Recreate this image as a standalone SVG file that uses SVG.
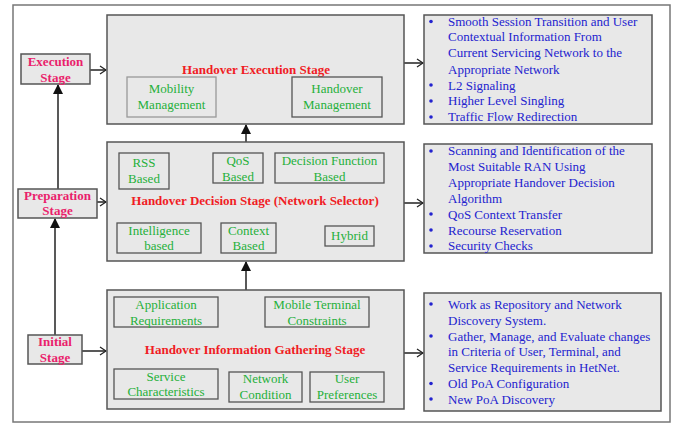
<svg xmlns="http://www.w3.org/2000/svg" width="678" height="424" viewBox="0 0 678 424">
<defs>
<marker id="chev" markerWidth="8" markerHeight="10" refX="7" refY="5" orient="auto" markerUnits="userSpaceOnUse">
<path d="M1,1 L7,5 L1,9" fill="none" stroke="#222" stroke-width="1.3"/>
</marker>
<marker id="tri" markerWidth="10" markerHeight="12" refX="9" refY="5" orient="auto" markerUnits="userSpaceOnUse">
<path d="M0,0 L10,5 L0,10 Z" fill="#111"/>
</marker>
</defs>
<style>
.frame{fill:#fff;stroke:#777;stroke-width:1.5}
.box{fill:#e8e8e8;stroke:#555;stroke-width:1.5}
.sub{fill:#e8e8e8;stroke:#555;stroke-width:1.3}
.subl{fill:#e8e8e8;stroke:#999;stroke-width:1.3}
.g{font-family:"Liberation Serif","Times New Roman",serif;font-size:13px;fill:#25b03a;text-anchor:middle}
.t{font-family:"Liberation Serif","Times New Roman",serif;font-size:13px;font-weight:bold;fill:#f01c24;text-anchor:middle}
.s{font-family:"Liberation Serif","Times New Roman",serif;font-size:13px;font-weight:bold;fill:#ea1f6c;text-anchor:middle}
.b{font-family:"Liberation Serif","Times New Roman",serif;font-size:13px;fill:#2323cf}
.line{stroke:#222;stroke-width:1.5;fill:none}
</style>
<rect class="frame" x="13" y="5" width="657" height="417"/>

<g id="connectors">
<line class="line" x1="90" y1="70" x2="106" y2="70" marker-end="url(#chev)"/>
<line class="line" x1="97" y1="202" x2="106" y2="202" marker-end="url(#chev)"/>
<line class="line" x1="82" y1="351" x2="106" y2="351" marker-end="url(#chev)"/>
<line class="line" x1="404" y1="63" x2="423" y2="63" marker-end="url(#chev)"/>
<line class="line" x1="404" y1="203" x2="423" y2="203" marker-end="url(#chev)"/>
<line class="line" x1="404" y1="353" x2="423" y2="353" marker-end="url(#chev)"/>
<line class="line" x1="58" y1="189" x2="58" y2="85" marker-end="url(#tri)"/>
<line class="line" x1="55" y1="335" x2="55" y2="219" marker-end="url(#tri)"/>
<line class="line" x1="246" y1="142" x2="246" y2="125" marker-end="url(#tri)"/>
<line class="line" x1="246" y1="290" x2="246" y2="262" marker-end="url(#tri)"/>
</g>

<g id="execution-stage">
<rect class="box" x="21" y="54" width="69" height="30"/>
<text class="s" x="55.5" y="66">Execution</text>
<text class="s" x="55.5" y="81.5">Stage</text>
</g>
<g id="preparation-stage">
<rect class="box" x="18" y="189" width="79" height="29"/>
<text class="s" x="57.5" y="199.5">Preparation</text>
<text class="s" x="57.5" y="215">Stage</text>
</g>
<g id="initial-stage">
<rect class="box" x="28" y="335" width="54" height="29"/>
<text class="s" x="55" y="346">Initial</text>
<text class="s" x="55" y="361.5">Stage</text>
</g>

<g id="handover-execution">
<rect class="box" x="107" y="15" width="297" height="109"/>
<text class="t" x="256" y="74">Handover Execution Stage</text>
<g id="mobility-management">
<rect class="subl" x="127" y="77" width="89" height="40"/>
<text class="g" x="171.5" y="92.5">Mobility</text>
<text class="g" x="171.5" y="108.5">Management</text>
</g>
<g id="handover-management">
<rect class="sub" x="292" y="77" width="90" height="40"/>
<text class="g" x="337" y="92.5">Handover</text>
<text class="g" x="337" y="108.5">Management</text>
</g>
</g>

<g id="handover-decision">
<rect class="box" x="107" y="142" width="297" height="119"/>
<text class="t" x="255" y="205">Handover Decision Stage (Network Selector)</text>
<g id="rss-based">
<rect class="sub" x="119" y="153" width="50" height="36"/>
<text class="g" x="144" y="167">RSS</text>
<text class="g" x="144" y="183">Based</text>
</g>
<g id="qos-based">
<rect class="sub" x="213" y="153" width="50" height="30"/>
<text class="g" x="238" y="165">QoS</text>
<text class="g" x="238" y="180.5">Based</text>
</g>
<g id="decision-function-based">
<rect class="sub" x="275" y="153" width="109" height="30"/>
<text class="g" x="329.5" y="165">Decision Function</text>
<text class="g" x="329.5" y="180.5">Based</text>
</g>
<g id="intelligence-based">
<rect class="sub" x="117" y="223" width="84" height="30"/>
<text class="g" x="159" y="234.5">Intelligence</text>
<text class="g" x="159" y="250">based</text>
</g>
<g id="context-based">
<rect class="sub" x="221" y="223" width="55" height="30"/>
<text class="g" x="248.5" y="234.5">Context</text>
<text class="g" x="248.5" y="250">Based</text>
</g>
<g id="hybrid">
<rect class="sub" x="325" y="226" width="49" height="20"/>
<text class="g" x="349.5" y="240">Hybrid</text>
</g>
</g>

<g id="handover-information">
<rect class="box" x="107" y="290" width="297" height="119"/>
<text class="t" x="255" y="354">Handover Information Gathering Stage</text>
<g id="application-requirements">
<rect class="sub" x="114" y="297" width="104" height="30"/>
<text class="g" x="166" y="308.5">Application</text>
<text class="g" x="166" y="324.5">Requirements</text>
</g>
<g id="mobile-terminal-constraints">
<rect class="sub" x="265" y="297" width="104" height="30"/>
<text class="g" x="317" y="308.5">Mobile Terminal</text>
<text class="g" x="317" y="324.5">Constraints</text>
</g>
<g id="service-characteristics">
<rect class="sub" x="114" y="369" width="104" height="30"/>
<text class="g" x="166" y="380.5">Service</text>
<text class="g" x="166" y="396">Characteristics</text>
</g>
<g id="network-condition">
<rect class="sub" x="229" y="372" width="73" height="30"/>
<text class="g" x="265.5" y="383">Network</text>
<text class="g" x="265.5" y="398.5">Condition</text>
</g>
<g id="user-preferences">
<rect class="sub" x="310" y="372" width="74" height="30"/>
<text class="g" x="347" y="383">User</text>
<text class="g" x="347" y="398.5">Preferences</text>
</g>
</g>

<g id="execution-details">
<rect class="box" x="424" y="15" width="228" height="109"/>
<g fill="#2323cf">
<circle cx="431" cy="21.5" r="1.8"/><circle cx="431" cy="85" r="1.8"/><circle cx="431" cy="101" r="1.8"/><circle cx="431" cy="117" r="1.8"/>
</g>
<text class="b" x="448" y="25.5">Smooth Session Transition and User</text>
<text class="b" x="448" y="41">Contextual Information From</text>
<text class="b" x="448" y="57">Current Servicing Network to the</text>
<text class="b" x="448" y="73.5">Appropriate Network</text>
<text class="b" x="448" y="89.5">L2 Signaling</text>
<text class="b" x="448" y="105">Higher Level Singling</text>
<text class="b" x="448" y="121">Traffic Flow Redirection</text>
</g>

<g id="decision-details">
<rect class="box" x="424" y="144" width="228" height="109"/>
<g fill="#2323cf">
<circle cx="431" cy="151" r="1.8"/><circle cx="431" cy="214" r="1.8"/><circle cx="431" cy="230" r="1.8"/><circle cx="431" cy="246" r="1.8"/>
</g>
<text class="b" x="448" y="155">Scanning and Identification of the</text>
<text class="b" x="448" y="171">Most Suitable RAN Using</text>
<text class="b" x="448" y="187">Appropriate Handover Decision</text>
<text class="b" x="448" y="203">Algorithm</text>
<text class="b" x="448" y="218.5">QoS Context Transfer</text>
<text class="b" x="448" y="234.5">Recourse Reservation</text>
<text class="b" x="448" y="250">Security Checks</text>
</g>

<g id="information-details">
<rect class="box" x="424" y="293" width="237" height="118"/>
<g fill="#2323cf">
<circle cx="431" cy="304" r="1.8"/><circle cx="431" cy="336" r="1.8"/><circle cx="431" cy="383.5" r="1.8"/><circle cx="431" cy="399" r="1.8"/>
</g>
<text class="b" x="448" y="308.5">Work as Repository and Network</text>
<text class="b" x="448" y="324.5">Discovery System.</text>
<text class="b" x="448" y="340.5">Gather, Manage, and Evaluate changes</text>
<text class="b" x="448" y="356">in Criteria of User, Terminal, and</text>
<text class="b" x="448" y="372">Service Requirements in HetNet.</text>
<text class="b" x="448" y="388">Old PoA Configuration</text>
<text class="b" x="448" y="403.5">New PoA Discovery</text>
</g>
</svg>
